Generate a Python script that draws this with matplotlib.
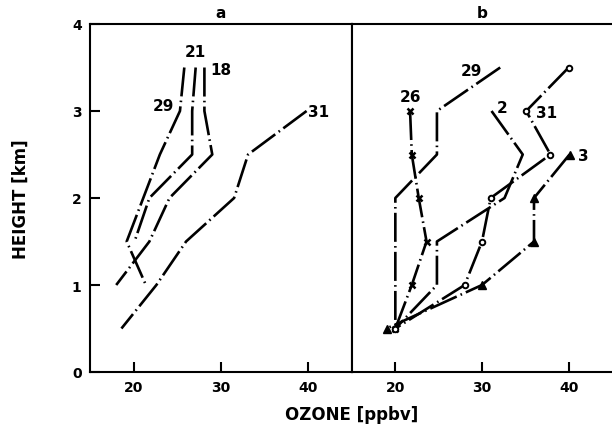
import numpy as np
import matplotlib
matplotlib.use('Agg')
import matplotlib.pyplot as plt

# panel a: ozone profiles (ppbv vs km)
a_29_x = [25.8, 25.3, 23.0, 21.1, 19.2, 21.4]
a_29_y = [3.5, 3.0, 2.5, 2.0, 1.5, 1.0]
a_21_x = [27.1, 26.7, 26.7, 21.8, 20.1]
a_21_y = [3.5, 3.0, 2.5, 2.0, 1.5]
a_18_x = [28.1, 28.1, 29.0, 24.1, 21.8, 18.0]
a_18_y = [3.5, 3.0, 2.5, 2.0, 1.5, 1.0]
a_31_x = [39.8, 33.1, 31.5, 26.0, 22.6, 18.6]
a_31_y = [3.0, 2.5, 2.0, 1.5, 1.0, 0.5]

# panel b
b_29_x = [32.1, 24.8, 24.8, 20.0, 20.0, 20.0, 20.0]
b_29_y = [3.5, 3.0, 2.5, 2.0, 1.5, 1.0, 0.5]
b_26_x = [21.7, 21.9, 22.7, 23.6, 21.9, 20.0]
b_26_y = [3.0, 2.5, 2.0, 1.5, 1.0, 0.5]
b_2_x = [31.1, 34.7, 32.6, 24.8, 24.8, 20.0]
b_2_y = [3.0, 2.5, 2.0, 1.5, 1.0, 0.5]
b_31_x = [40.0, 35.1, 37.9, 31.0, 30.0, 28.0, 20.0]
b_31_y = [3.5, 3.0, 2.5, 2.0, 1.5, 1.0, 0.5]
b_3_x = [40.1, 36.0, 36.0, 30.0, 19.0]
b_3_y = [2.5, 2.0, 1.5, 1.0, 0.5]

a_labels = [('21', 27.1, 3.68), ('18', 30.0, 3.48), ('29', 23.4, 3.06), ('31', 41.2, 2.99)]
b_labels = [('29', 28.8, 3.46), ('26', 21.7, 3.17), ('2', 32.3, 3.04), ('31', 37.5, 2.98), ('3', 41.7, 2.49)]

plt.rcParams['font.family'] = 'DejaVu Sans'
plt.rcParams['font.weight'] = 'bold'

fig = plt.figure(figsize=(6.12, 4.39), dpi=100)
axa = fig.add_axes([90/612., 1-373/439., 262/612., 348/439.])
axb = fig.add_axes([352/612., 1-373/439., 260/612., 348/439.])

dash = (0, (11, 1.6, 0.6, 1.6))
kw = dict(color='black', lw=1.9, linestyle=dash)

axa.plot(a_29_x, a_29_y, **kw)
axa.plot(a_21_x, a_21_y, **kw)
axa.plot(a_18_x, a_18_y, **kw)
axa.plot(a_31_x, a_31_y, **kw)

axb.plot(b_29_x, b_29_y, **kw)
axb.plot(b_26_x, b_26_y, marker='x', ms=4, mew=1.8, mec='black', **kw)
axb.plot(b_2_x, b_2_y, **kw)
axb.plot(b_31_x, b_31_y, marker='o', ms=4, mfc='white', mec='black', mew=1.4, **kw)
axb.plot(b_3_x, b_3_y, marker='^', ms=6, mfc='black', mec='black', **kw)

for t, x, y in a_labels:
    axa.text(x, y, t, fontsize=11, fontweight='bold', ha='center', va='center')
for t, x, y in b_labels:
    axb.text(x, y, t, fontsize=11, fontweight='bold', ha='center', va='center')

for ax in (axa, axb):
    ax.set_xlim(15, 45)
    ax.set_ylim(0, 4)
    ax.set_xticks([20, 30, 40])
    ax.tick_params(direction='in', length=7, width=1.5, labelsize=10, pad=6)
    for lab in ax.get_xticklabels() + ax.get_yticklabels():
        lab.set_fontweight('bold')
    for s in ax.spines.values():
        s.set_linewidth(1.5)

axa.set_yticks([0, 1, 2, 3, 4])
axb.set_yticks([])
axb.spines['right'].set_visible(False)

axa.set_title('a', fontsize=11, fontweight='bold', pad=5)
axb.set_title('b', fontsize=11, fontweight='bold', pad=5)

axa.set_ylabel('HEIGHT [km]', fontsize=12, fontweight='bold', labelpad=30)
fig.text(352/612., 1-415/439., 'OZONE [ppbv]', fontsize=12, fontweight='bold', ha='center', va='center')

fig.savefig('out.png', dpi=100)
